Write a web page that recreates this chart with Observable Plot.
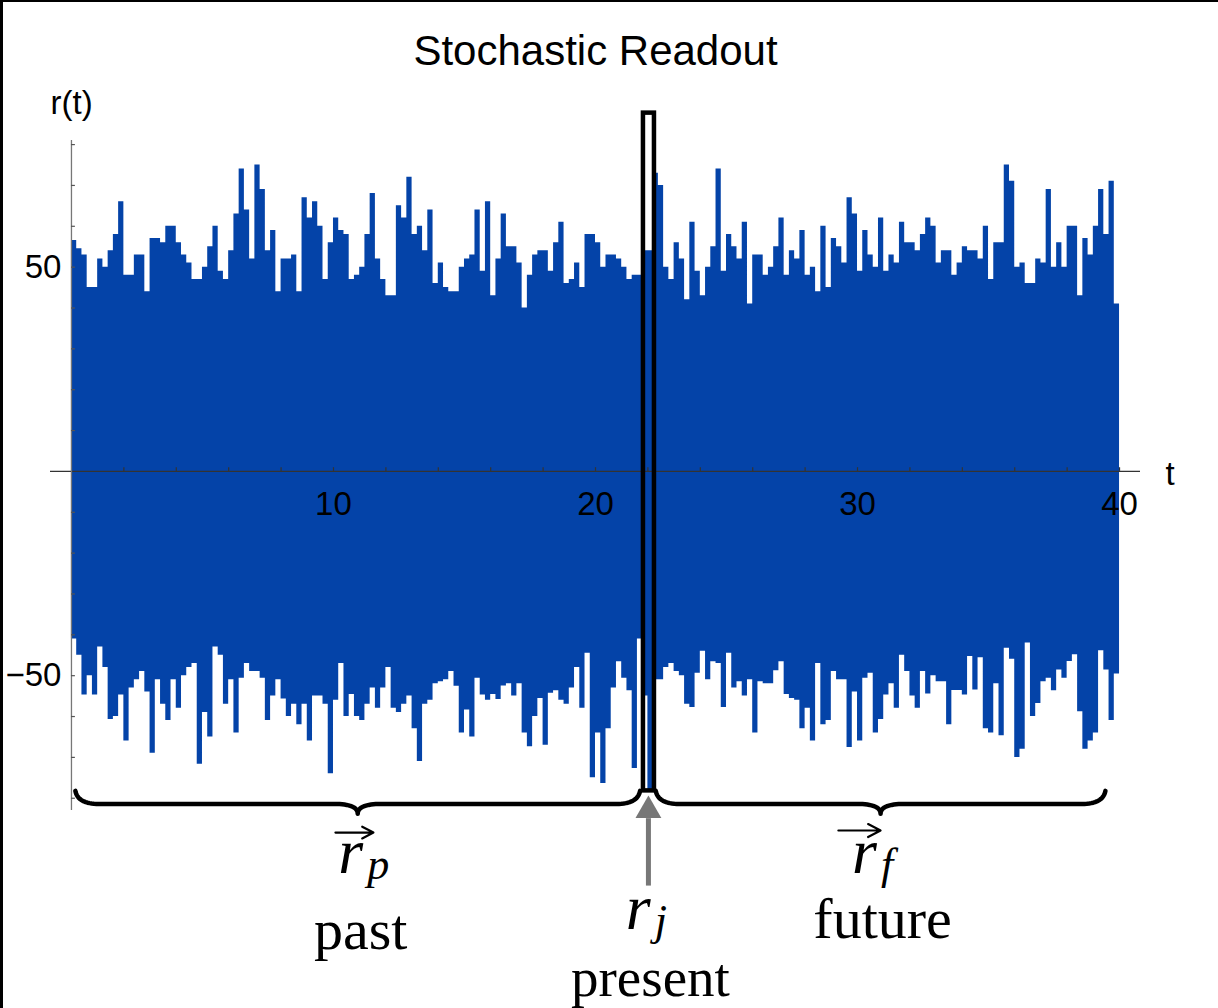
<!DOCTYPE html>
<html><head><meta charset="utf-8">
<script src="https://cdn.jsdelivr.net/npm/d3@7"></script>
<script src="https://cdn.jsdelivr.net/npm/@observablehq/plot@0.6"></script>
<style>
html,body{margin:0;padding:0;background:#fff;}
#wrap{position:relative;width:1218px;height:1008px;overflow:hidden;background:#fff;}
#wrap .bt{position:absolute;left:0;top:0;width:1218px;height:2px;background:#000;}
#wrap .bl{position:absolute;left:0;top:0;width:3px;height:1008px;background:#000;}
</style></head><body><div id="wrap"><div class="bt"></div><div class="bl"></div></div>
<script>
// ---- data: upper / lower envelope of r(t), one value per 0.2 of t ----
const dt = 0.2;
const upper = [
 56.5,54.5,53,45,45,52,50,54,58,66,
 48,48,53,53,44,57,57,56,60,60,
 56,53,51,47,47,50,55,60,49,47,
 54,63,74,64,52,75,69,54,59,44,
 52,52,53,44,67,62,66,60,47,56,
 62,59,58,47,48,50,58,68,52,47,
 43,43,65,62,72,58,60,54,64,46,
 51,45,44,44,50,52,53,64,49,66,
 43,52,63,55,55,51,40,48,53,54,
 54,49,56,61,46,47,51,45,58,58,
 56,50,53,53,52,50,47,48,48,54,
 54,73,70,50,47,56,52,42,61,49,
 43,50,55,74,49,58,55,52,61,41,
 53,53,48,50,55,62,48,54,52,59,
 48,50,44,60,45,57,55,51,67,63,
 49,59,53,50,62,49,53,51,61,56,
 56,54,58,62,60,51,54,54,48,51,
 55,54,54,52,60,47,56,56,75,71,
 50,51,46,46,52,51,69,50,56,50,
 60,60,43,57,53,60,69,58,71,41
];
const lower = [
 -41,-45,-54.7,-50,-54.7,-43,-48,-60.7,-60,-54.7,
 -66,-53,-51,-49,-54,-69,-51,-57,-61,-51,
 -58,-50,-48,-47,-71.7,-59,-65,-43,-45,-57,
 -51,-64,-50.6,-47,-49,-49,-50.6,-61,-55,-51,
 -55.7,-60,-57,-62,-57,-66,-55,-55,-57,-74,
 -56,-47,-60,-54.6,-60,-61,-57,-53,-58,-53,
 -48,-58,-59,-57,-55,-63,-71,-57,-56,-52,
 -51.5,-51,-49,-52.6,-64,-58.4,-65,-50.6,-54.7,-56,
 -54.6,-55.8,-52.5,-52,-55,-52,-64,-67.4,-60,-55.6,
 -67,-54.3,-53.7,-56,-57,-53,-48,-58,-44.5,-75,
 -64,-76.4,-63,-53,-46.6,-50.6,-53.7,-72.7,-41,-55,
 -78,-51,-51,-48,-47,-49,-50,-57,-57.8,-49.4,
 -44,-51,-46.6,-47,-57.8,-44.5,-53,-51.5,-55,-51,
 -64,-51.5,-52,-52,-48.8,-46.6,-54.6,-55.6,-56,-63,
 -58,-66,-47,-62,-61,-49,-51,-51,-67.6,-54,
 -66,-50.6,-49.4,-64,-60.7,-54.7,-52,-58,-45,-49,
 -55,-58,-49,-54.5,-50,-51.5,-51.5,-62,-53.6,-53.6,
 -54.7,-45.3,-53.5,-45.6,-63,-64,-52,-64.7,-43.3,-46,
 -70,-68,-42,-60,-56.8,-51.5,-50.6,-53.7,-48.6,-50.6,
 -46.5,-44.9,-58.8,-68,-66,-64,-43.9,-48.6,-61,-49.6
];
const xTickValues = [2,4,6,8,10,12,14,16,18,20,22,24,26,28,30,32,34,36,38,40];
const xTickLabels = [10,20,30,40];
const yTickValues = [-80,-70,-60,-50,-40,-30,-20,-10,10,20,30,40,50,60,70,80];
const yTickLabels = [-50,50];
const presentWindow = [21.83, 22.25];   // t range of the boxed sample
const presentBox = [-78.2, 87.7];        // r range of the box
const pastSpan = [0.15, 21.7];
const futureSpan = [22.3, 39.46];
const presentT = 22.02;

// ---- build table ----
const series = upper.map((u, i) => ({t: i * dt, hi: u, lo: lower[i]}));
series.push({t: upper.length * dt, hi: upper[upper.length - 1], lo: lower[lower.length - 1]});

function brace([a, b], yEnd, yMid, yTip, w) {
  const m = (a + b) / 2, pts = [];
  const q = (p0, p1, p2, n = 16) => {
    for (let i = 0; i <= n; i++) {
      const s = i / n;
      pts.push({x: (1-s)*(1-s)*p0[0] + 2*(1-s)*s*p1[0] + s*s*p2[0],
                y: (1-s)*(1-s)*p0[1] + 2*(1-s)*s*p1[1] + s*s*p2[1]});
    }
  };
  q([a, yEnd], [a + w * 0.1, yMid], [a + w, yMid]);
  q([m - w, yMid], [m, yMid], [m, yTip]);
  q([m, yTip], [m, yMid], [m + w, yMid]);
  q([b - w, yMid], [b - w * 0.1, yMid], [b, yEnd]);
  return pts;
}
const braceL = brace(pastSpan, -78.2, -81.4, -83.8, 0.9);
const braceR = brace(futureSpan, -78.2, -81.4, -83.8, 0.9);

const serif = "'Liberation Serif', 'DejaVu Serif', serif";
const sans = "'Liberation Sans', Arial, sans-serif";
const blue = "#0443a8";
const pastC = (pastSpan[0] + pastSpan[1]) / 2;
const futC = (futureSpan[0] + futureSpan[1]) / 2;
const bottom = -83;

const vecArrows = [
  {x1: pastC - 0.85, x2: pastC + 0.6, y: -88.4},
  {x1: futC - 1.61, x2: futC, y: -87.9}
];

const txt = (s, t, o) => Plot.text([s], Object.assign({x: () => t, y: () => bottom, text: d => d, lineAnchor: "bottom", fill: "#000"}, o));

const chart = Plot.plot({
  width: 1218, height: 1008,
  marginLeft: 50, marginRight: 78, marginTop: 140, marginBottom: 198,
  x: {domain: [-0.8, 40.8], axis: null},
  y: {domain: [-83, 81], axis: null},
  style: {background: "transparent", overflow: "visible", fontFamily: sans},
  marks: [
    Plot.areaY(series, {x: "t", y1: "lo", y2: "hi", curve: "step-after", fill: blue}),
    Plot.ruleY([0], {stroke: "#333", strokeWidth: 1.4}),
    Plot.ruleX([0], {stroke: "#777", strokeWidth: 1.3}),
    Plot.ruleX(xTickValues, {x: d => d, y1: 0, y2: 0.9, stroke: "#333", strokeWidth: 1.2}),
    Plot.ruleY(yTickValues, {y: d => d, x1: 0, x2: 0.15, stroke: "#555", strokeWidth: 1.2}),
    Plot.text(xTickLabels, {x: d => d, y: () => 0, text: d => String(d), dy: 33, lineAnchor: "middle", fontSize: 33, fill: "#000"}),
    Plot.text(yTickLabels, {x: () => 0, y: d => d, text: d => d < 0 ? "\u2212" + Math.abs(d) : String(d), textAnchor: "end", dx: -10, lineAnchor: "middle", fontSize: 33, fill: "#000"}),
    Plot.text(["Stochastic Readout"], {frameAnchor: "top", text: d => d, dy: -76, lineAnchor: "bottom", fontSize: 42, fill: "#000"}),
    Plot.text(["r(t)"], {frameAnchor: "top-left", text: d => d, textAnchor: "start", dy: -27, lineAnchor: "bottom", fontSize: 33, fill: "#000"}),
    Plot.text([0], {y: d => d, frameAnchor: "right", text: () => "t", textAnchor: "start", dx: 25, dy: 14, lineAnchor: "bottom", fontSize: 33, fill: "#000"}),
    Plot.rect([presentWindow], {x1: d => d[0], x2: d => d[1], y1: () => presentBox[0], y2: () => presentBox[1], fill: "none", stroke: "#000", strokeWidth: 4.5}),
    Plot.line(braceL, {x: "x", y: "y", stroke: "#000", strokeWidth: 4.5, strokeLinecap: "round", strokeLinejoin: "round"}),
    Plot.line(braceR, {x: "x", y: "y", stroke: "#000", strokeWidth: 4.5, strokeLinecap: "round", strokeLinejoin: "round"}),
    Plot.ruleX([presentT], {x: d => d, y1: () => -101.5, y2: () => -85, stroke: "#777", strokeWidth: 5}),
    Plot.dot([presentT], {x: d => d, y: () => -83.0, symbol: "triangle", r: 9.6, fill: "#777", stroke: "none"}),
    Plot.arrow(vecArrows, {x1: "x1", x2: "x2", y1: "y", y2: "y", stroke: "#000", strokeWidth: 2.2, headLength: 11, headAngle: 55}),
    // math labels (r with subscript), rebuilt with tspans below
    txt("r|p", pastC, {dx: 6, dy: 62, fontSize: 64, fontStyle: "italic", fontFamily: serif}),
    txt("past", pastC, {dx: 3, dy: 138, fontSize: 58, fontFamily: serif}),
    txt("r|j", presentT, {dx: -2, dy: 118, fontSize: 64, fontStyle: "italic", fontFamily: serif}),
    txt("present", presentT, {dx: 2, dy: 185, fontSize: 55, fontFamily: serif}),
    txt("r|f", futC, {dx: -8, dy: 62, fontSize: 64, fontStyle: "italic", fontFamily: serif}),
    txt("future", futC, {dx: 2, dy: 127, fontSize: 58, fontFamily: serif})
  ]
});
d3.select(chart).selectAll("text").each(function () {
  const s = this.textContent;
  if (s.indexOf("|") < 0) return;
  const [base, sub] = s.split("|");
  const el = d3.select(this);
  el.text("");
  el.append("tspan").text(base);
  el.append("tspan").attr("font-size", 44).attr("dx", 4).attr("dy", 6).text(sub);
});
document.getElementById("wrap").prepend(chart);
</script></body></html>
